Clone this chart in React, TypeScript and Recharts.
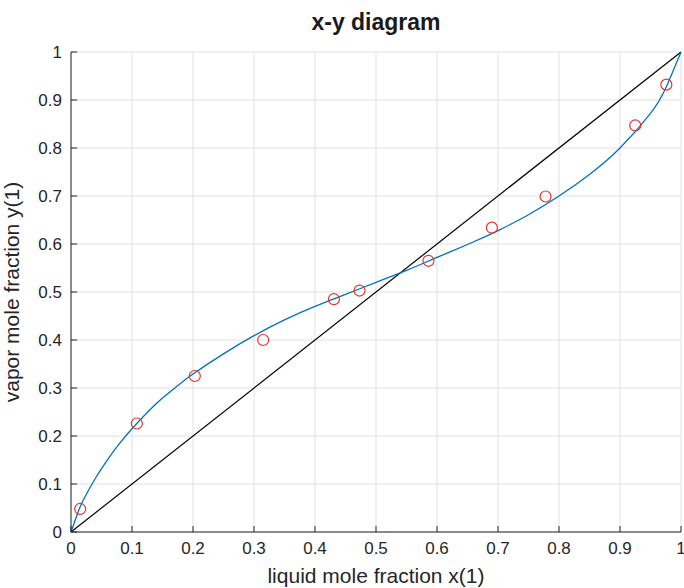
import React from 'react';
import {
  ComposedChart,
  Line,
  Scatter,
  XAxis,
  YAxis,
  CartesianGrid,
  Label,
} from 'recharts';

// fitted model curve
const curveX = [0, 0.01, 0.02, 0.04, 0.06, 0.08, 0.1, 0.125, 0.15, 0.175, 0.2, 0.25, 0.3, 0.35, 0.4, 0.45, 0.5, 0.55, 0.6, 0.65, 0.7, 0.75, 0.8, 0.85, 0.9, 0.95, 0.975, 1];
const curveY = [0, 0.036, 0.066, 0.112, 0.151, 0.185, 0.215, 0.249, 0.279, 0.305, 0.329, 0.371, 0.409, 0.442, 0.47, 0.495, 0.52, 0.545, 0.572, 0.599, 0.628, 0.661, 0.70, 0.745, 0.80, 0.872, 0.925, 1];

// experimental points
const expX = [0.015, 0.108, 0.203, 0.315, 0.431, 0.473, 0.586, 0.69, 0.778, 0.925, 0.976];
const expY = [0.048, 0.226, 0.325, 0.40, 0.485, 0.503, 0.565, 0.634, 0.699, 0.847, 0.932];

// y = x reference
const diagX = [0, 1];
const diagY = [0, 1];

const ticks = [0, 0.1, 0.2, 0.3, 0.4, 0.5, 0.6, 0.7, 0.8, 0.9, 1];

const curve = curveX.map((x, i) => ({ x, y: curveY[i] }));
const points = expX.map((x, i) => ({ x, y: expY[i] }));
const diag = diagX.map((x, i) => ({ x, y: diagY[i] }));

const FONT = '"Liberation Sans", Arial, Helvetica, sans-serif';
const AXIS = '#262626';
const TICK_LEN = 6;

const fmt = (v: number) => String(Math.round(v * 10) / 10);

// ticks point inward, like matlab
const BottomTick = (props: any) => {
  const { x, y, payload } = props;
  return (
    <g>
      <line x1={x} y1={y} x2={x} y2={y - TICK_LEN} stroke={AXIS} strokeWidth={1} />
      <text x={x} y={y + 22} textAnchor="middle" fontSize={17} fill={AXIS} fontFamily={FONT}>
        {fmt(payload.value)}
      </text>
    </g>
  );
};

const TopTick = (props: any) => {
  const { x, y } = props;
  return <line x1={x} y1={y} x2={x} y2={y + TICK_LEN} stroke={AXIS} strokeWidth={1} />;
};

const LeftTick = (props: any) => {
  const { x, y, payload } = props;
  return (
    <g>
      <line x1={x} y1={y} x2={x + TICK_LEN} y2={y} stroke={AXIS} strokeWidth={1} />
      <text x={x - 9} y={y + 6} textAnchor="end" fontSize={17} fill={AXIS} fontFamily={FONT}>
        {fmt(payload.value)}
      </text>
    </g>
  );
};

const RightTick = (props: any) => {
  const { x, y } = props;
  return <line x1={x} y1={y} x2={x - TICK_LEN} y2={y} stroke={AXIS} strokeWidth={1} />;
};

const OpenCircle = (props: any) => {
  const { cx, cy } = props;
  return <circle cx={cx} cy={cy} r={5.5} fill="none" stroke="#e8322a" strokeWidth={1.2} />;
};

const App: React.FC = () => {
  return (
    <div style={{ position: 'absolute', left: 0, top: 0, width: 684, height: 588, background: '#fff' }}>
      <div
        style={{
          position: 'absolute',
          left: 71,
          width: 610,
          top: 9,
          textAlign: 'center',
          fontFamily: FONT,
          fontWeight: 'bold',
          fontSize: 23,
          color: '#1a1a1a',
        }}
      >
        x-y diagram
      </div>
      <ComposedChart
        width={684}
        height={588}
        margin={{ top: 52, right: 3, bottom: 0, left: 0 }}
      >
        <CartesianGrid stroke="#e1e1e1" strokeWidth={1} />
        <XAxis
          xAxisId={0}
          dataKey="x"
          type="number"
          domain={[0, 1]}
          ticks={ticks}
          interval={0}
          height={56}
          tickSize={0}
          tickMargin={0}
          tickLine={false}
          tick={<BottomTick />}
          axisLine={{ stroke: AXIS, strokeWidth: 1 }}
        >
          <Label
            value="liquid mole fraction x(1)"
            position="insideBottom"
            offset={5}
            style={{ fontSize: 21, fontFamily: FONT, fill: AXIS }}
          />
        </XAxis>
        <XAxis
          xAxisId="top"
          orientation="top"
          dataKey="x"
          type="number"
          domain={[0, 1]}
          ticks={ticks}
          interval={0}
          height={0}
          tickSize={0}
          tickMargin={0}
          tickLine={false}
          tick={<TopTick />}
          axisLine={{ stroke: AXIS, strokeWidth: 1 }}
        />
        <YAxis
          yAxisId={0}
          type="number"
          domain={[0, 1]}
          ticks={ticks}
          interval={0}
          width={71}
          tickSize={0}
          tickMargin={0}
          tickLine={false}
          tick={<LeftTick />}
          axisLine={{ stroke: AXIS, strokeWidth: 1 }}
        >
          <Label
            value="vapor mole fraction y(1)"
            angle={-90}
            position="insideLeft"
            offset={12}
            style={{ fontSize: 21, fontFamily: FONT, fill: AXIS, textAnchor: 'middle' }}
          />
        </YAxis>
        <YAxis
          yAxisId="right"
          orientation="right"
          type="number"
          domain={[0, 1]}
          ticks={ticks}
          interval={0}
          width={0}
          tickSize={0}
          tickMargin={0}
          tickLine={false}
          tick={<RightTick />}
          axisLine={{ stroke: AXIS, strokeWidth: 1 }}
        />
        <Line
          data={diag}
          dataKey="y"
          type="linear"
          stroke="#000000"
          strokeWidth={1.2}
          dot={false}
          activeDot={false}
          isAnimationActive={false}
        />
        <Line
          data={curve}
          dataKey="y"
          type="natural"
          stroke="#0072BD"
          strokeWidth={1.3}
          dot={false}
          activeDot={false}
          isAnimationActive={false}
        />
        <Scatter
          data={points}
          dataKey="y"
          shape={<OpenCircle />}
          isAnimationActive={false}
        />
      </ComposedChart>
    </div>
  );
};

export default App;
